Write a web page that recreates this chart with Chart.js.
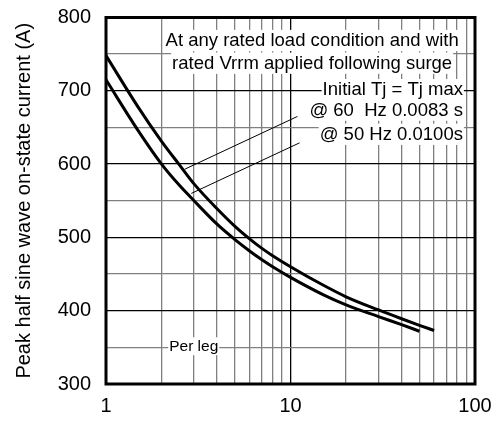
<!DOCTYPE html>
<html>
<head>
<meta charset="utf-8">
<script src="https://cdn.jsdelivr.net/npm/chart.js@4.4.0/dist/chart.umd.min.js"></script>
<style>
  html, body { margin: 0; padding: 0; background: #fff; }
  #wrap { width: 497px; height: 423px; }
</style>
</head>
<body>
<div id="wrap"><canvas id="myChart"></canvas></div>
<script>
// Nombre de cycles (axe x, log)
const cycles60 = [1, 1.5, 2, 2.5, 3, 4, 5, 6, 7, 8, 10, 15, 20, 30, 40, 50, 60];
const current60 = [748, 677, 631, 599, 573, 539, 515, 498, 485, 475, 460, 435, 419, 401, 389, 380, 373];

const cycles50 = [1, 1.5, 2, 2.5, 3, 4, 5, 6, 7, 8, 10, 15, 20, 30, 40, 50];
const current50 = [715, 645, 600, 571, 550, 518, 497, 481.5, 469.5, 460, 445.5, 422, 408, 392, 381, 372];

// Lignes de rappel vers les annotations
const leader60 = [[2.67, 593], [10.9, 665]];
const leader50 = [[2.9, 560], [11.2, 629]];

// Graduations
const xGrid = [1, 2, 3, 4, 5, 6, 7, 8, 9, 10, 20, 30, 40, 50, 60, 70, 80, 90, 100];
const xLabels = [1, 10, 100];
const yGrid = [300, 350, 400, 450, 500, 550, 600, 650, 700, 750, 800];

// Textes
const noteLines = ['At any rated load condition and with', 'rated Vrrm applied following surge'];
const condLines = ['Initial Tj = Tj max', '@ 60  Hz 0.0083 s', '@ 50 Hz 0.0100s'];
const legLabel = 'Per leg';

const FONT = '"Liberation Sans", Arial, sans-serif';

function toPoints(xs, ys) {
    return xs.map((x, i) => ({ x: x, y: ys[i] }));
}

// Cadre épais + textes sur fond blanc
const annotPlugin = {
    id: 'annot',
    afterDatasetsDraw(chart) {
        const { ctx, chartArea: a, scales } = chart;
        const xs = scales.x, ys = scales.y;
        ctx.save();
        function label(text, px, py, size, align) {
            ctx.font = size + 'px ' + FONT;
            const w = ctx.measureText(text).width;
            let left = align === 'right' ? px - w : align === 'center' ? px - w / 2 : px;
            ctx.fillStyle = '#fff';
            ctx.fillRect(left - 1, py - size * 0.6, w + 2, size * 1.15);
            ctx.fillStyle = '#000';
            ctx.textBaseline = 'middle';
            ctx.textAlign = 'left';
            ctx.fillText(text, left, py);
        }
        const cx = xs.getPixelForValue(13.1);
        label(noteLines[0], cx, ys.getPixelForValue(768), 18.5, 'center');
        label(noteLines[1], cx, ys.getPixelForValue(737), 18.5, 'center');
        const rx = xs.getPixelForValue(86);
        label(condLines[0], rx, ys.getPixelForValue(701), 18.5, 'right');
        label(condLines[1], rx, ys.getPixelForValue(673), 18.5, 'right');
        label(condLines[2], rx, ys.getPixelForValue(640), 18.5, 'right');
        label(legLabel, xs.getPixelForValue(2.2), ys.getPixelForValue(351), 15.5, 'left');

        ctx.strokeStyle = '#000';
        ctx.lineWidth = 3;
        ctx.strokeRect(a.left, a.top, a.right - a.left, a.bottom - a.top);
        ctx.restore();
    }
};

const ctx = document.getElementById('myChart').getContext('2d');
const myChart = new Chart(ctx, {
    type: 'line',
    data: {
        datasets: [
            {
                data: toPoints(cycles60, current60),
                borderColor: '#000', borderWidth: 3, pointRadius: 0,
                cubicInterpolationMode: 'monotone', fill: false
            },
            {
                data: toPoints(cycles50, current50),
                borderColor: '#000', borderWidth: 3, pointRadius: 0,
                cubicInterpolationMode: 'monotone', fill: false
            },
            {
                data: leader60.map(p => ({ x: p[0], y: p[1] })),
                borderColor: '#000', borderWidth: 1, pointRadius: 0
            },
            {
                data: leader50.map(p => ({ x: p[0], y: p[1] })),
                borderColor: '#000', borderWidth: 1, pointRadius: 0
            }
        ]
    },
    options: {
        responsive: true,
        maintainAspectRatio: false,
        animation: false,
        layout: { padding: { top: 17.5, right: 22, left: 12, bottom: 0 } },
        plugins: {
            legend: { display: false },
            tooltip: { enabled: false },
            title: { display: false }
        },
        scales: {
            x: {
                type: 'logarithmic',
                min: 1, max: 100,
                afterBuildTicks: s => { s.ticks = xGrid.map(v => ({ value: v })); },
                afterFit: s => {
                    s.height = 39;
                    s.paddingLeft = 0;
                    s.paddingRight = 0;
                },
                border: { display: false },
                grid: {
                    drawTicks: false,
                    lineWidth: 1.3,
                    color: c => (xLabels.includes(c.tick.value) ? '#000' : '#808080')
                },
                ticks: {
                    autoSkip: false,
                    maxRotation: 0,
                    padding: 10,
                    color: '#000',
                    font: { family: FONT, size: 20 },
                    callback: v => (xLabels.includes(v) ? String(v) : '')
                }
            },
            y: {
                min: 300, max: 800,
                afterBuildTicks: s => { s.ticks = yGrid.map(v => ({ value: v })); },
                afterFit: s => {
                    s.width = 94;
                    s.paddingTop = 0;
                    s.paddingBottom = 0;
                },
                border: { display: false },
                grid: {
                    drawTicks: false,
                    lineWidth: 1.3,
                    color: c => (c.tick.value % 100 === 0 ? '#000' : '#808080')
                },
                ticks: {
                    autoSkip: false,
                    padding: 15,
                    color: '#000',
                    font: { family: FONT, size: 20 },
                    callback: v => (v % 100 === 0 ? String(v) : '')
                },
                title: {
                    display: true,
                    text: 'Peak half sine wave on-state current (A)',
                    color: '#000',
                    font: { family: FONT, size: 20 },
                    padding: 0
                }
            }
        }
    },
    plugins: [annotPlugin]
});
</script>
</body>
</html>
